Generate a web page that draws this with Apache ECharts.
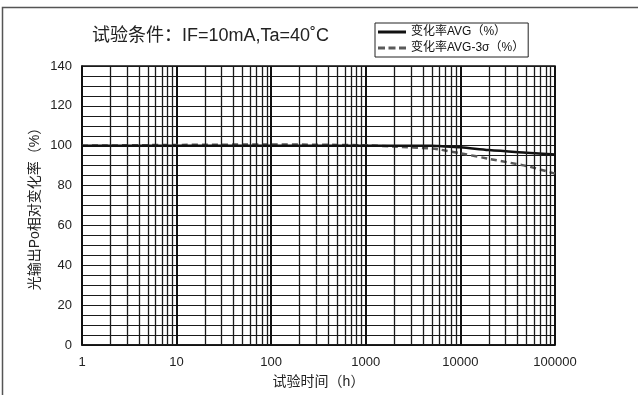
<!DOCTYPE html>
<html>
<head>
<meta charset="utf-8">
<script src="https://cdn.jsdelivr.net/npm/echarts@6/dist/echarts.min.js"></script>
<style>html,body{margin:0;padding:0;background:#fff;}#c{width:638px;height:395px;}</style>
</head>
<body>
<div id="c"></div>
<script>
const hours = [1, 10, 100, 1000, 2000, 5000, 6000, 10000, 20000, 50000, 100000];
const avg   = [100, 100, 100, 100, 100, 100, 99.8, 99.2, 97.8, 96.5, 95.6];
const avg3s = [100, 100.4, 100.6, 100.2, 99.6, 98.6, 98.1, 96.2, 93.4, 89.8, 86.0];
const xTicks = [1, 10, 100, 1000, 10000, 100000];
const minorX = [];
for (let d = 1; d < 100000; d *= 10) { for (let k = 2; k <= 9; k++) minorX.push(k * d); }

const FONT = '"Liberation Sans", "Noto Sans CJK SC", sans-serif';
const chart = echarts.init(document.getElementById('c'));
chart.setOption({
  backgroundColor: '#fff',
  animation: false,
  textStyle: { fontFamily: FONT },
  graphic: [
    { type: 'rect', shape: { x: 2.5, y: 7.5, width: 700, height: 450 }, style: { fill: 'none', stroke: '#555', lineWidth: 1.5 }, silent: true },
    { type: 'text', left: 92, top: 27, style: { text: '试验条件：IF=10mA,Ta=40˚C', font: '18px ' + FONT, fill: '#222' } }
  ],
  legend: {
    orient: 'vertical', left: 375, top: 23,
    data: [
      { name: '变化率AVG（%）', icon: 'rect' },
      { name: '变化率AVG-3σ（%）', icon: 'path://M0,0h7v3h-7z M10.5,0h7v3h-7z M21,0h7v3h-7z' }
    ],
    borderColor: '#222', borderWidth: 1, padding: [3, 4, 3, 3], itemGap: 4,
    itemWidth: 28, itemHeight: 3,
    textStyle: { fontSize: 12, color: '#111', fontFamily: FONT }
  },
  grid: { left: 82, right: 83, top: 66, bottom: 50, show: true, borderColor: '#111', borderWidth: 1.5 },
  xAxis: {
    type: 'log', logBase: 10, min: 1, max: 100000,
    name: '试验时间（h）', nameLocation: 'middle', nameGap: 30, nameMoveOverlap: false,
    nameTextStyle: { fontSize: 14, color: '#222', fontFamily: FONT },
    axisLine: { show: true, lineStyle: { color: '#111', width: 1.5 } },
    axisTick: { show: false },
    axisLabel: { fontSize: 13, color: '#222', margin: 11, fontFamily: FONT,
      formatter: v => String(Math.round(v)) },
    splitLine: { show: true, lineStyle: { color: '#111', width: 2 } }
  },
  yAxis: {
    type: 'value', min: 0, max: 140, interval: 20,
    name: '光输出Po相对变化率（%）', nameLocation: 'middle', nameGap: 40, nameMoveOverlap: false,
    nameTextStyle: { fontSize: 14, color: '#222', fontFamily: FONT },
    axisLine: { show: true, lineStyle: { color: '#111', width: 1.5 } },
    axisTick: { show: false },
    axisLabel: { fontSize: 13, color: '#222', margin: 10, fontFamily: FONT },
    splitLine: { show: true, lineStyle: { color: '#1a1a1a', width: 1 } },
    minorTick: { show: false, splitNumber: 4 },
    minorSplitLine: { show: true, lineStyle: { color: '#1a1a1a', width: 1 } }
  },
  series: [
    {
      name: 'gridMinor', type: 'line', data: [], z: 1, silent: true,
      markLine: {
        silent: true, symbol: 'none', label: { show: false }, animation: false,
        lineStyle: { color: '#1a1a1a', width: 1.3, type: 'solid' },
        data: minorX.map(v => ({ xAxis: v }))
      }
    },
    {
      name: '变化率AVG-3σ（%）', type: 'line', z: 3, symbol: 'none', smooth: 0.3,
      data: hours.map((h, i) => [h, avg3s[i]]),
      lineStyle: { color: '#5a5a5a', width: 2.5, type: [6, 4] },
      itemStyle: { color: '#5a5a5a' }
    },
    {
      name: '变化率AVG（%）', type: 'line', z: 4, symbol: 'none', smooth: 0.3,
      data: hours.map((h, i) => [h, avg[i]]),
      lineStyle: { color: '#111', width: 2.5 },
      itemStyle: { color: '#111' }
    }
  ]
});
</script>
</body>
</html>
